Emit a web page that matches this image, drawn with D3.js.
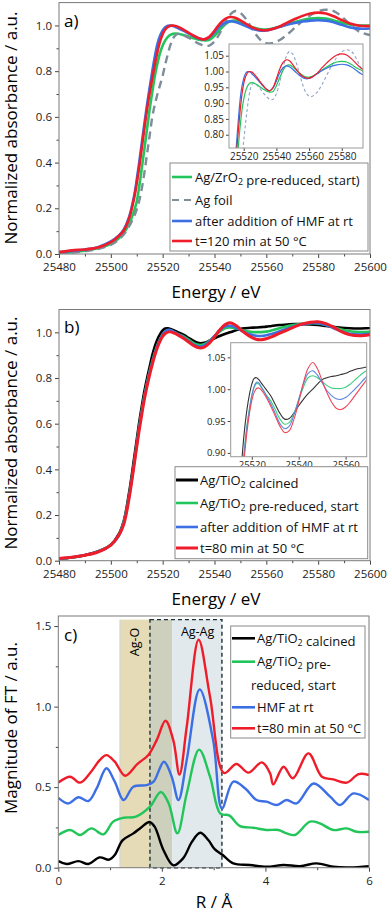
<!DOCTYPE html>
<html><head><meta charset="utf-8">
<script src="https://cdn.jsdelivr.net/npm/d3@7"></script>
<style>body{margin:0;background:#fff}svg{display:block;font-family:'Open Sans',sans-serif}</style>
</head><body><svg id="chart" width="392" height="917"></svg>
<script>
// ---------- DATA ----------
const energy = [25480,25485,25490,25495,25500,25503,25505,25507,25509,25510,25511,25512,25513,25514,25515,25516,25517,25518,25519,25520,25521,25522,25523,25524,25525,25526,25528,25530,25532,25534,25536,25538,25540,25542,25544,25546,25548,25550,25552,25554,25556,25558,25560,25562,25565,25568,25571,25574,25577,25580,25583,25586,25589,25592,25596,25600];

// panel a (Ag/ZrO2)
const aGreen = [0.004,0.008,0.014,0.025,0.045,0.068,0.092,0.13,0.19,0.23,0.3,0.38,0.465,0.55,0.635,0.71,0.78,0.835,0.88,0.912,0.935,0.95,0.959,0.964,0.965,0.964,0.958,0.951,0.944,0.938,0.935,0.937,0.955,0.98,1.003,1.018,1.021,1.015,1.005,0.995,0.988,0.983,0.982,0.985,0.994,1.005,1.015,1.024,1.03,1.032,1.03,1.022,1.012,1.004,1.0,1.0];
const aFoil = [0.003,0.006,0.012,0.022,0.04,0.062,0.085,0.12,0.165,0.195,0.235,0.29,0.36,0.44,0.52,0.6,0.655,0.7,0.74,0.78,0.83,0.875,0.915,0.943,0.958,0.963,0.958,0.946,0.932,0.92,0.912,0.912,0.93,0.965,1.01,1.047,1.063,1.055,1.03,0.995,0.96,0.934,0.922,0.922,0.935,0.96,0.99,1.02,1.045,1.062,1.069,1.063,1.04,1.008,0.972,0.958];
const aBlue = [0.008,0.013,0.02,0.03,0.055,0.08,0.108,0.16,0.255,0.325,0.405,0.49,0.575,0.655,0.73,0.8,0.865,0.92,0.955,0.978,0.992,0.999,1.0,0.998,0.993,0.988,0.977,0.965,0.953,0.943,0.939,0.948,0.97,0.995,1.011,1.018,1.015,1.007,0.997,0.988,0.981,0.977,0.978,0.983,0.993,1.003,1.011,1.017,1.021,1.023,1.021,1.014,1.003,0.992,0.986,0.987];
const aRed = [0.008,0.016,0.02,0.028,0.052,0.078,0.103,0.155,0.245,0.31,0.385,0.47,0.555,0.635,0.705,0.77,0.83,0.885,0.93,0.962,0.982,0.993,0.999,1.0,0.998,0.994,0.982,0.968,0.955,0.944,0.939,0.95,0.977,1.007,1.028,1.037,1.034,1.022,1.008,0.995,0.985,0.98,0.979,0.983,0.995,1.012,1.028,1.042,1.052,1.056,1.052,1.04,1.024,1.01,0.999,0.997];

// panel b (Ag/TiO2)
const bBlack = [0.008,0.014,0.024,0.04,0.07,0.115,0.175,0.295,0.45,0.53,0.61,0.68,0.745,0.8,0.85,0.9,0.94,0.97,0.992,1.008,1.017,1.018,1.015,1.01,1.005,1.0,0.99,0.976,0.962,0.953,0.954,0.963,0.974,0.984,0.993,1.0,1.008,1.015,1.018,1.02,1.021,1.023,1.025,1.028,1.032,1.034,1.036,1.036,1.035,1.032,1.028,1.024,1.02,1.018,1.017,1.019];
const bGreen = [0.008,0.014,0.024,0.04,0.069,0.11,0.17,0.28,0.43,0.51,0.59,0.66,0.725,0.78,0.83,0.873,0.912,0.945,0.97,0.99,1.003,1.009,1.008,1.003,0.998,0.992,0.982,0.968,0.953,0.945,0.948,0.962,0.983,1.003,1.018,1.021,1.018,1.012,1.006,1.002,1.001,1.001,1.003,1.008,1.018,1.027,1.033,1.037,1.04,1.039,1.032,1.022,1.012,1.005,1.001,1.002];
const bBlue = [0.008,0.015,0.025,0.04,0.068,0.108,0.167,0.275,0.425,0.505,0.585,0.655,0.72,0.775,0.825,0.868,0.908,0.942,0.968,0.99,1.004,1.011,1.01,1.004,0.998,0.991,0.978,0.962,0.946,0.938,0.942,0.96,0.984,1.008,1.025,1.029,1.022,1.01,0.998,0.99,0.985,0.984,0.987,0.993,1.004,1.016,1.027,1.035,1.04,1.04,1.032,1.018,1.004,0.994,0.99,0.992];
const bRed = [0.01,0.015,0.024,0.038,0.068,0.11,0.16,0.27,0.42,0.5,0.575,0.645,0.71,0.765,0.815,0.86,0.9,0.935,0.962,0.982,0.995,1.001,1.002,0.999,0.994,0.988,0.974,0.958,0.942,0.932,0.935,0.953,0.98,1.01,1.033,1.042,1.032,1.013,0.995,0.98,0.97,0.968,0.972,0.98,0.995,1.01,1.025,1.037,1.044,1.046,1.038,1.022,1.003,0.99,0.985,0.99];

// panel c (FT magnitude), [R, value]
const ftCalcined = [[0,0.041],[0.16,0.023],[0.39,0.041],[0.58,0.023],[0.8,0.064],[0.98,0.05],[1.09,0.079],[1.24,0.17],[1.45,0.213],[1.6,0.25],[1.76,0.284],[1.86,0.255],[2.03,0.11],[2.22,0.015],[2.41,0.058],[2.58,0.16],[2.74,0.217],[2.9,0.17],[3.02,0.115],[3.17,0.08],[3.38,0.027],[3.7,0.017],[4.02,0.006],[4.35,0.017],[4.67,0.01],[4.99,0.027],[5.31,0.006],[5.63,0.002],[6.0,0.01]];
const ftReduced = [[0,0.203],[0.23,0.234],[0.42,0.203],[0.64,0.244],[0.87,0.207],[1.06,0.286],[1.26,0.31],[1.5,0.317],[1.77,0.379],[1.98,0.47],[2.13,0.4],[2.3,0.213],[2.48,0.461],[2.72,0.733],[2.93,0.565],[3.13,0.335],[3.3,0.325],[3.5,0.26],[3.77,0.248],[4.02,0.234],[4.25,0.234],[4.41,0.213],[4.57,0.203],[4.86,0.286],[5.05,0.275],[5.31,0.234],[5.57,0.244],[5.76,0.223],[6.0,0.223]];
const ftHMF = [[0,0.434],[0.19,0.399],[0.39,0.437],[0.58,0.414],[0.74,0.492],[0.93,0.617],[1.09,0.534],[1.26,0.42],[1.45,0.503],[1.71,0.513],[1.84,0.534],[2.04,0.658],[2.19,0.565],[2.32,0.42],[2.48,0.668],[2.73,1.107],[2.99,0.792],[3.16,0.368],[3.38,0.534],[3.61,0.492],[3.83,0.42],[4.02,0.41],[4.22,0.389],[4.41,0.42],[4.6,0.399],[4.93,0.523],[5.25,0.441],[5.44,0.389],[5.7,0.461],[6.0,0.42]];
const ft80min = [[0,0.528],[0.23,0.565],[0.42,0.528],[0.61,0.586],[0.8,0.668],[0.93,0.699],[1.09,0.658],[1.29,0.571],[1.53,0.645],[1.74,0.7],[1.9,0.792],[2.07,0.912],[2.22,0.792],[2.34,0.578],[2.48,0.875],[2.71,1.415],[2.93,1.061],[3.2,0.588],[3.44,0.644],[3.67,0.59],[3.93,0.654],[4.09,0.586],[4.15,0.517],[4.35,0.627],[4.53,0.555],[4.83,0.71],[5.09,0.565],[5.31,0.548],[5.57,0.528],[5.8,0.581],[6.0,0.575]];

const regionAgO = [1.19, 2.2];
const regionAgAg = [1.77, 3.16];
const regionTop = 1.54;

const xTicksE = [25480,25500,25520,25540,25560,25580,25600];
const yTicksA = [0,0.2,0.4,0.6,0.8,1.0];
const insetATicksX = [25520,25540,25560,25580];
const insetATicksY = [0.80,0.85,0.90,0.95,1.00,1.05];
const insetBTicksX = [25520,25540,25560];
const insetBTicksY = [0.90,0.95,1.00,1.05];
const xTicksR = [0,2,4,6];
const yTicksC = [0,0.5,1.0,1.5];

// ---------- DRAWING ----------
const svg = d3.select('#chart');
const C = {green:'#22c55a', gray:'#7d8e99', blue:'#3b6fe3', red:'#ef1c2a', black:'#000'};
const zip = (xs, ys) => xs.map((v,i)=>[v, ys[i]]);

function axes(g, x, y, o){
  const xa = g.append('g').attr('transform',`translate(0,${y.range()[0]})`);
  if(o.xMinor) xa.append('g').call(d3.axisBottom(x).tickValues(o.xMinor).tickSize(o.minor).tickFormat(''));
  xa.append('g').call(d3.axisBottom(x).tickValues(o.xTicks).tickSize(o.major).tickPadding(o.xpad||o.pad).tickFormat(o.xFmt));
  const ya = g.append('g').attr('transform',`translate(${x.range()[0]},0)`);
  if(o.yMinor) ya.append('g').call(d3.axisLeft(y).tickValues(o.yMinor).tickSize(o.minor).tickFormat(''));
  ya.append('g').call(d3.axisLeft(y).tickValues(o.yTicks).tickSize(o.major).tickPadding(o.pad).tickFormat(o.yFmt));
  g.selectAll('.domain').remove();
  g.selectAll('.tick line').attr('stroke','#444');
  g.selectAll('.tick text').attr('font-size',o.fs).attr('fill','#222').attr('font-family',"'Open Sans',sans-serif");
  g.append('rect').attr('x',x.range()[0]).attr('y',y.range()[1])
    .attr('width',x.range()[1]-x.range()[0]).attr('height',y.range()[0]-y.range()[1])
    .attr('fill','none').attr('stroke',o.frame||'#7a7a7a').attr('stroke-width',1);
}

function legendText(t, x, y, parts, fs){
  const tx = t.append('text').attr('x',x).attr('y',y).attr('font-size',fs).attr('fill','#111');
  parts.forEach(p=>{
    if(typeof p==='string') tx.append('tspan').text(p);
    else { tx.append('tspan').attr('font-size',fs*0.68).attr('dy',3).text(p.sub); tx.append('tspan').attr('dy',-3).text(''); }
  });
}

function legend(g, box, items, fs){
  g.append('rect').attr('x',box.x).attr('y',box.y).attr('width',box.w).attr('height',box.h)
    .attr('fill','#fff').attr('stroke','#8a8a8a').attr('stroke-width',1);
  items.forEach(it=>{
    if(it.color){
      g.append('line').attr('x1',box.lx1).attr('x2',box.lx2).attr('y1',it.y).attr('y2',it.y)
       .attr('stroke',it.color).attr('stroke-width',it.w||2.6).attr('stroke-dasharray',it.dash||null);
    }
    legendText(g, it.tx||box.tx, it.y+4.5, it.parts, fs);
  });
}

const lineGen = (x,y)=> d3.line().x(d=>x(d[0])).y(d=>y(d[1])).curve(d3.curveCatmullRom.alpha(0.5));

// ===== Panel a =====
{
  const g = svg.append('g');
  const x = d3.scaleLinear().domain([25480,25600]).range([59,370]);
  const y = d3.scaleLinear().domain([0,1.1]).range([254,2.6]);
  const L = lineGen(x,y);
  g.append('clipPath').attr('id','clipA').append('rect').attr('x',59).attr('y',2.6).attr('width',311).attr('height',251.4);
  const pl = g.append('g').attr('clip-path','url(#clipA)');
  pl.append('path').attr('d',L(zip(energy,aGreen))).attr('fill','none').attr('stroke',C.green).attr('stroke-width',2.6);
  pl.append('path').attr('d',L(zip(energy,aFoil))).attr('fill','none').attr('stroke',C.gray).attr('stroke-width',2.4).attr('stroke-dasharray','8,5');
  pl.append('path').attr('d',L(zip(energy,aBlue))).attr('fill','none').attr('stroke',C.blue).attr('stroke-width',2.6);
  pl.append('path').attr('d',L(zip(energy,aRed))).attr('fill','none').attr('stroke',C.red).attr('stroke-width',2.6);
  axes(g,x,y,{xTicks:xTicksE,xMinor:d3.range(25490,25600,20),yTicks:yTicksA,yMinor:[0.1,0.3,0.5,0.7,0.9],major:4,minor:2.5,pad:3,xpad:5,fs:11.5,
    xFmt:d3.format('d'),yFmt:d3.format('.1f')});
  g.append('text').attr('x',64).attr('y',27).attr('font-size',17).text('a)');
  g.append('text').attr('transform','translate(17,128) rotate(-90)').attr('text-anchor','middle').attr('font-size',17).text('Normalized absorbance / a.u.');
  g.append('text').attr('x',216).attr('y',298).attr('text-anchor','middle').attr('font-size',17).text('Energy / eV');

  // inset
  const ix = d3.scaleLinear().domain([25511,25593]).range([229,363]);
  const iy = d3.scaleLinear().domain([0.758,1.087]).range([148,44]);
  const IL = lineGen(ix,iy);
  g.append('rect').attr('x',229).attr('y',44).attr('width',134).attr('height',104).attr('fill','#fff');
  g.append('clipPath').attr('id','clipAi').append('rect').attr('x',229).attr('y',44).attr('width',134).attr('height',104);
  const ip = g.append('g').attr('clip-path','url(#clipAi)');
  ip.append('path').attr('d',IL(zip(energy,aFoil))).attr('fill','none').attr('stroke','#8fa3c7').attr('stroke-width',1.1).attr('stroke-dasharray','3,2.5');
  ip.append('path').attr('d',IL(zip(energy,aGreen))).attr('fill','none').attr('stroke',C.green).attr('stroke-width',1.2);
  ip.append('path').attr('d',IL(zip(energy,aBlue))).attr('fill','none').attr('stroke',C.blue).attr('stroke-width',1.2);
  ip.append('path').attr('d',IL(zip(energy,aRed))).attr('fill','none').attr('stroke',C.red).attr('stroke-width',1.2);
  const ig = g.append('g');
  axes(ig,ix,iy,{xTicks:insetATicksX,yTicks:insetATicksY,major:3,minor:2,pad:2,fs:10,frame:'#9a9a9a',
    xFmt:d3.format('d'),yFmt:d3.format('.2f')});

  legend(g,{x:170,y:163,w:198,h:88,lx1:172,lx2:192,tx:195},[
    {y:177,color:C.green,parts:['Ag/ZrO',{sub:'2'},' pre-reduced, start)']},
    {y:200,color:C.gray,dash:'7,5',w:2.2,parts:['Ag foil']},
    {y:221,color:C.blue,parts:['after addition of HMF at rt']},
    {y:241,color:C.red,parts:['t=120 min at 50 °C']}
  ],13);
}

// ===== Panel b =====
{
  const g = svg.append('g');
  const x = d3.scaleLinear().domain([25480,25600]).range([59,370]);
  const y = d3.scaleLinear().domain([0,1.1]).range([560.7,309.5]);
  const L = lineGen(x,y);
  g.append('clipPath').attr('id','clipB').append('rect').attr('x',59).attr('y',309.5).attr('width',311).attr('height',251.2);
  const pl = g.append('g').attr('clip-path','url(#clipB)');
  pl.append('path').attr('d',L(zip(energy,bBlack))).attr('fill','none').attr('stroke',C.black).attr('stroke-width',2.6);
  pl.append('path').attr('d',L(zip(energy,bGreen))).attr('fill','none').attr('stroke',C.green).attr('stroke-width',2.6);
  pl.append('path').attr('d',L(zip(energy,bBlue))).attr('fill','none').attr('stroke',C.blue).attr('stroke-width',2.6);
  pl.append('path').attr('d',L(zip(energy,bRed))).attr('fill','none').attr('stroke',C.red).attr('stroke-width',3);
  axes(g,x,y,{xTicks:xTicksE,xMinor:d3.range(25490,25600,20),yTicks:yTicksA,yMinor:[0.1,0.3,0.5,0.7,0.9],major:4,minor:2.5,pad:3,xpad:5,fs:11.5,
    xFmt:d3.format('d'),yFmt:d3.format('.1f')});
  g.append('text').attr('x',64).attr('y',333).attr('font-size',17).text('b)');
  g.append('text').attr('transform','translate(17,433) rotate(-90)').attr('text-anchor','middle').attr('font-size',17).text('Normalized absorbance / a.u.');
  g.append('text').attr('x',216).attr('y',605).attr('text-anchor','middle').attr('font-size',17).text('Energy / eV');

  const ix = d3.scaleLinear().domain([25511,25569]).range([230.7,366.7]);
  const iy = d3.scaleLinear().domain([0.894,1.073]).range([456.7,342.7]);
  const IL = lineGen(ix,iy);
  g.append('rect').attr('x',230.7).attr('y',342.7).attr('width',136).attr('height',114).attr('fill','#fff');
  g.append('clipPath').attr('id','clipBi').append('rect').attr('x',230.7).attr('y',342.7).attr('width',136).attr('height',114);
  const ip = g.append('g').attr('clip-path','url(#clipBi)');
  ip.append('path').attr('d',IL(zip(energy,bBlack))).attr('fill','none').attr('stroke','#333').attr('stroke-width',1.1);
  ip.append('path').attr('d',IL(zip(energy,bGreen))).attr('fill','none').attr('stroke','#3fcf80').attr('stroke-width',1.1);
  ip.append('path').attr('d',IL(zip(energy,bBlue))).attr('fill','none').attr('stroke','#5b86e0').attr('stroke-width',1.1);
  ip.append('path').attr('d',IL(zip(energy,bRed))).attr('fill','none').attr('stroke','#f0455a').attr('stroke-width',1.1);
  const ig = g.append('g');
  axes(ig,ix,iy,{xTicks:insetBTicksX,yTicks:insetBTicksY,major:3,minor:2,pad:2,fs:9.5,frame:'#9a9a9a',
    xFmt:d3.format('d'),yFmt:d3.format('.2f')});

  legend(g,{x:175,y:466.7,w:192.7,h:92,lx1:176,lx2:198,tx:200},[
    {y:480,color:C.black,w:3,parts:['Ag/TiO',{sub:'2'},' calcined']},
    {y:503,color:C.green,parts:['Ag/TiO',{sub:'2'},' pre-reduced, start']},
    {y:527,color:C.blue,parts:['after addition of HMF at rt']},
    {y:548,color:C.red,w:3,parts:['t=80 min at 50 °C']}
  ],13);
}

// ===== Panel c =====
{
  const g = svg.append('g');
  const x = d3.scaleLinear().domain([0,6]).range([58.3,369]);
  const y = d3.scaleLinear().domain([0,1.5625]).range([867.7,616]);
  const L = lineGen(x,y);
  g.append('rect').attr('x',x(regionAgO[0])).attr('y',y(regionTop)).attr('width',x(regionAgAg[0])-x(regionAgO[0]))
    .attr('height',y(0)-y(regionTop)).attr('fill','#e5dbb6');
  g.append('rect').attr('x',x(regionAgAg[0])).attr('y',y(regionTop)).attr('width',x(regionAgO[1])-x(regionAgAg[0]))
    .attr('height',y(0)-y(regionTop)).attr('fill','#ccd0bc');
  g.append('rect').attr('x',x(regionAgO[1])).attr('y',y(regionTop)).attr('width',x(regionAgAg[1])-x(regionAgO[1]))
    .attr('height',y(0)-y(regionTop)).attr('fill','#e1e9ec');
  g.append('line').attr('x1',x(regionAgO[0])).attr('x2',x(regionAgO[0])).attr('y1',y(regionTop)).attr('y2',y(0)).attr('stroke','#c9d6e0').attr('stroke-width',1);
  g.append('rect').attr('x',x(regionAgAg[0])).attr('y',y(regionTop)).attr('width',x(regionAgAg[1])-x(regionAgAg[0]))
    .attr('height',y(0)-y(regionTop)).attr('fill','none').attr('stroke','#1f2f38').attr('stroke-width',1.4).attr('stroke-dasharray','4,3');
  g.append('text').attr('transform',`translate(${(x(regionAgO[0])+x(regionAgAg[0]))/2+4},642) rotate(-90)`).attr('text-anchor','middle').attr('font-size',12.5).text('Ag-O');
  g.append('text').attr('x',x(2.69)).attr('y',636).attr('text-anchor','middle').attr('font-size',12.5).text('Ag-Ag');

  g.append('clipPath').attr('id','clipC').append('rect').attr('x',58.3).attr('y',616).attr('width',310.7).attr('height',251.7);
  const pl = g.append('g').attr('clip-path','url(#clipC)');
  pl.append('path').attr('d',L(ftCalcined)).attr('fill','none').attr('stroke',C.black).attr('stroke-width',2.4);
  pl.append('path').attr('d',L(ftReduced)).attr('fill','none').attr('stroke',C.green).attr('stroke-width',2.4);
  pl.append('path').attr('d',L(ftHMF)).attr('fill','none').attr('stroke',C.blue).attr('stroke-width',2.4);
  pl.append('path').attr('d',L(ft80min)).attr('fill','none').attr('stroke',C.red).attr('stroke-width',2.4);
  axes(g,x,y,{xTicks:xTicksR,xMinor:[1,3,5],yTicks:yTicksC,yMinor:[0.25,0.75,1.25],major:4,minor:2.5,pad:3,xpad:5,fs:11.5,
    xFmt:d3.format('d'),yFmt:d3.format('.1f')});
  g.append('text').attr('x',64).attr('y',641).attr('font-size',17).text('c)');
  g.append('text').attr('transform','translate(17,728) rotate(-90)').attr('text-anchor','middle').attr('font-size',17).text('Magnitude of FT / a.u.');
  g.append('text').attr('x',214).attr('y',908).attr('text-anchor','middle').attr('font-size',17).text('R / Å');

  legend(g,{x:230.7,y:626,w:134.3,h:112,lx1:232,lx2:255,tx:257},[
    {y:638.3,color:C.black,parts:['Ag/TiO',{sub:'2'},' calcined']},
    {y:661.7,color:C.green,parts:['Ag/TiO',{sub:'2'},' pre-']},
    {y:685.5,tx:251,parts:['reduced, start']},
    {y:707.3,color:C.blue,parts:['HMF at rt']},
    {y:728.3,color:C.red,parts:['t=80 min at 50 °C']}
  ],13);
}
</script></body></html>
